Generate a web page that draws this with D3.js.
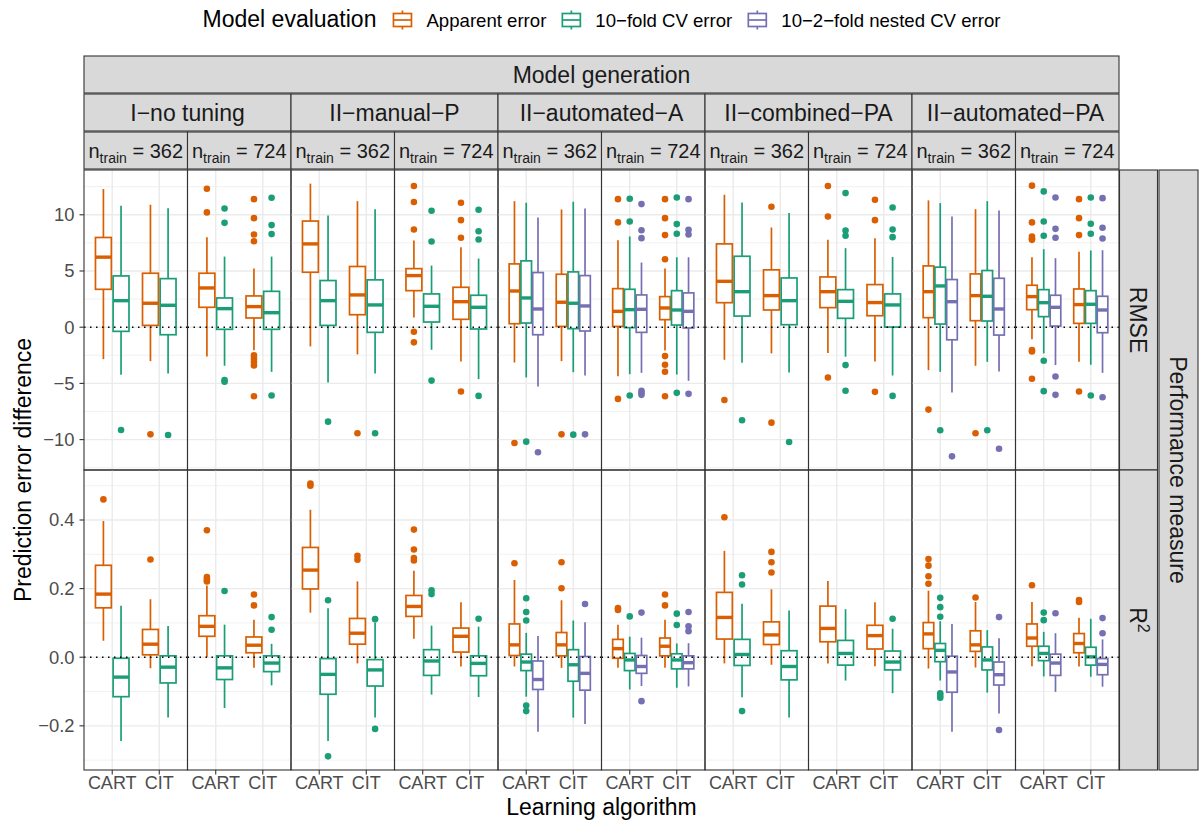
<!DOCTYPE html>
<html>
<head>
<meta charset="utf-8">
<script src="https://cdn.jsdelivr.net/npm/d3@7"></script>
<style>
  body { margin: 0; background: #fff; }
  svg text { font-family: "Liberation Sans", Arial, Helvetica, sans-serif; }
</style>
</head>
<body>
<div id="chart"></div>
<script>
// categories
const genLevels = ["I\u2212no tuning", "II\u2212manual\u2212P", "II\u2212automated\u2212A", "II\u2212combined\u2212PA", "II\u2212automated\u2212PA"];
const nTrain = [362, 724];
const algorithms = ["CART", "CIT"];
const evalMethods = ["Apparent error", "10\u2212fold CV error", "10\u22122\u2212fold nested CV error"];
const evalColors = ["#D95F02", "#1B9E77", "#7570B3"];
const nestedCols = [4, 5, 8, 9];   // panel columns that also have nested CV

// tick labels
const rmseTicks = [-10, -5, 0, 5, 10];
const rmseMinor = [-12.5, -7.5, -2.5, 2.5, 7.5, 12.5];
const r2Ticks = [-0.2, 0, 0.2, 0.4];
const r2Minor = [-0.3, -0.1, 0.1, 0.3, 0.5];

// box stats, one row per box:
// [panel column, algorithm, lower whisker, Q1, median, Q3, upper whisker, outliers]
const rmseApparent = [
    [0, "CART", -2.84, 3.37, 6.23, 7.98, 12.29, []],
    [0, "CIT", -3.02, 0.16, 2.13, 4.80, 10.89, [-9.53]],
    [1, "CART", -2.60, 1.77, 3.49, 4.80, 8.01, [12.32, 10.21]],
    [1, "CIT", -2.04, 0.82, 1.83, 2.78, 5.21, [11.39, 9.70, 8.25, 7.65, -2.51, -2.80, -3.10, -3.40, -6.14]],
    [2, "CART", -1.71, 4.89, 7.41, 9.44, 12.77, []],
    [2, "CIT", -2.42, 1.11, 2.87, 5.40, 11.21, [-9.44]],
    [3, "CART", 0.86, 3.25, 4.59, 5.21, 7.71, [12.56, 11.13, 8.69, -0.40, -1.35]],
    [3, "CIT", -3.05, 0.70, 2.27, 3.55, 7.12, [11.07, 9.52, 7.95, -5.72]],
    [4, "CART", -3.14, 0.31, 3.22, 5.63, 11.21, [-10.30]],
    [4, "CIT", -3.02, 0.07, 2.22, 4.71, 10.47, [-9.53]],
    [5, "CART", -4.36, 0.07, 1.41, 3.43, 7.74, [11.39, 9.32, -6.38]],
    [5, "CIT", -2.07, 0.67, 1.71, 2.72, 5.21, [11.39, 9.70, 8.19, 6.05, -2.57, -3.34, -3.97, -6.14]],
    [6, "CART", -2.90, 2.18, 4.08, 7.41, 11.78, [-6.47]],
    [6, "CIT", -2.33, 1.53, 2.81, 5.10, 8.87, [10.71, -8.49]],
    [7, "CART", -2.30, 1.74, 3.16, 4.47, 7.77, [12.56, 9.85, -4.47]],
    [7, "CIT", -3.05, 1.02, 2.19, 3.79, 7.92, [11.34, 9.52, -5.75]],
    [8, "CART", -3.82, 0.85, 3.16, 5.45, 11.28, [-7.33]],
    [8, "CIT", -3.43, 0.58, 2.81, 4.74, 10.50, [-9.44]],
    [9, "CART", -1.08, 1.56, 2.72, 3.73, 6.22, [12.59, 9.32, 8.07, 7.89, 7.77, -2.04, -2.16, -4.59]],
    [9, "CIT", -3.08, 0.34, 2.01, 3.40, 6.70, [11.39, 9.70, 8.19, -5.72]]
];
const rmseCV10 = [
    [0, "CART", -4.24, -0.37, 2.36, 4.56, 10.80, [-9.14]],
    [0, "CIT", -4.12, -0.67, 1.95, 4.32, 10.59, [-9.59]],
    [1, "CART", -3.43, -0.19, 1.65, 2.60, 6.28, [10.56, 9.28, -4.70, -4.85]],
    [1, "CIT", -3.97, -0.19, 1.29, 3.19, 6.28, [11.51, 9.08, 8.28, -6.08]],
    [2, "CART", -4.92, 0.16, 2.36, 4.15, 9.94, [-8.40]],
    [2, "CIT", -4.12, -0.46, 1.98, 4.21, 10.50, [-9.44]],
    [3, "CART", -2.01, 0.46, 1.86, 2.96, 5.48, [10.36, 7.62, -4.75]],
    [3, "CIT", -4.62, -0.16, 1.77, 2.84, 6.11, [10.45, 8.54, 7.80, -6.11]],
    [4, "CART", -4.47, 0.37, 2.60, 5.90, 11.07, [-10.18]],
    [4, "CIT", -4.00, -0.13, 2.13, 4.92, 11.16, [-9.56]],
    [5, "CART", -4.18, -0.04, 1.56, 3.37, 8.07, [11.42, 9.40, -6.08]],
    [5, "CIT", -4.21, 0.19, 1.53, 3.25, 6.22, [11.54, 9.17, 8.31, -5.84]],
    [6, "CART", -3.16, 0.99, 3.16, 6.31, 11.10, [-8.28]],
    [6, "CIT", -4.03, 0.22, 2.36, 4.38, 10.15, [-10.21]],
    [7, "CART", -2.63, 0.79, 2.30, 3.34, 7.03, [11.93, 8.60, 8.13, -3.37, -5.66]],
    [7, "CIT", -4.30, 0.01, 1.98, 2.96, 6.25, [10.65, 8.69, 8.01, -6.11]],
    [8, "CART", -3.97, 0.28, 3.67, 5.34, 11.04, [-9.17]],
    [8, "CIT", -3.08, 0.55, 2.75, 5.04, 11.21, [-9.17]],
    [9, "CART", -2.33, 0.94, 2.18, 3.34, 6.94, [12.08, 9.40, 8.13, -2.99, -5.69]],
    [9, "CIT", -3.34, 0.34, 2.04, 3.25, 6.82, [11.54, 9.20, 8.31, -6.08]]
];
const rmseNested = [
    [4, "CART", -5.27, -0.67, 1.62, 4.86, 9.76, [-11.13]],
    [4, "CIT", -4.30, -0.34, 1.89, 4.59, 10.56, [-9.53]],
    [5, "CART", -4.06, -0.46, 1.59, 2.87, 5.75, [10.95, 8.63, 7.92, -5.66, -5.84, -6.02]],
    [5, "CIT", -4.77, -0.07, 1.41, 3.05, 6.22, [11.39, 8.66, 8.25, -5.93]],
    [8, "CART", -5.81, -1.12, 2.27, 4.24, 9.85, [-11.49]],
    [8, "CIT", -3.94, -0.70, 1.62, 4.35, 10.39, [-10.81]],
    [9, "CART", -3.37, 0.10, 1.77, 2.84, 6.14, [11.54, 8.75, 7.95, -4.38, -6.02]],
    [9, "CIT", -4.06, -0.49, 1.53, 2.75, 6.85, [11.48, 8.84, 7.89, -6.23]]
];
const r2Apparent = [
    [0, "CART", 0.048, 0.144, 0.184, 0.268, 0.397, [0.460]],
    [0, "CIT", -0.032, 0.007, 0.038, 0.081, 0.169, [0.285]],
    [1, "CART", 0.001, 0.061, 0.090, 0.121, 0.209, [0.370, 0.234, 0.227, 0.221]],
    [1, "CIT", -0.031, 0.013, 0.035, 0.059, 0.109, [0.183, 0.151]],
    [2, "CART", 0.130, 0.199, 0.254, 0.320, 0.430, [0.506, 0.500]],
    [2, "CIT", -0.018, 0.038, 0.070, 0.113, 0.221, [0.296, 0.284]],
    [3, "CART", 0.054, 0.119, 0.148, 0.180, 0.252, [0.372, 0.314, 0.289, 0.282]],
    [3, "CIT", -0.027, 0.015, 0.061, 0.085, 0.160, []],
    [4, "CART", -0.027, 0.005, 0.036, 0.097, 0.225, [0.274]],
    [4, "CIT", -0.031, 0.004, 0.036, 0.072, 0.166, [0.277, 0.201]],
    [5, "CART", -0.031, -0.003, 0.025, 0.052, 0.095, [0.143, 0.138]],
    [5, "CIT", -0.031, 0.004, 0.032, 0.056, 0.109, [0.183, 0.151]],
    [6, "CART", -0.018, 0.053, 0.116, 0.189, 0.310, [0.408]],
    [6, "CIT", -0.022, 0.037, 0.065, 0.103, 0.198, [0.307, 0.277, 0.247]],
    [7, "CART", -0.018, 0.045, 0.084, 0.149, 0.222, []],
    [7, "CIT", -0.026, 0.024, 0.063, 0.093, 0.160, []],
    [8, "CART", -0.033, 0.025, 0.068, 0.101, 0.194, [0.286, 0.267, 0.236, 0.214]],
    [8, "CIT", -0.030, 0.017, 0.036, 0.077, 0.161, [0.174]],
    [9, "CART", -0.026, 0.032, 0.056, 0.097, 0.161, [0.210]],
    [9, "CIT", -0.027, 0.013, 0.040, 0.069, 0.115, [0.167, 0.161]]
];
const r2CV10 = [
    [0, "CART", -0.244, -0.115, -0.058, -0.003, 0.150, []],
    [0, "CIT", -0.176, -0.075, -0.029, 0.004, 0.091, []],
    [1, "CART", -0.148, -0.065, -0.031, 0.004, 0.095, [0.193]],
    [1, "CIT", -0.082, -0.042, -0.017, 0.004, 0.039, [0.117, 0.080]],
    [2, "CART", -0.244, -0.108, -0.050, -0.004, 0.143, [0.166, -0.289]],
    [2, "CIT", -0.176, -0.084, -0.037, -0.007, 0.101, [0.111, -0.209]],
    [3, "CART", -0.109, -0.053, -0.011, 0.022, 0.092, [0.195, 0.184]],
    [3, "CIT", -0.116, -0.054, -0.018, 0.004, 0.089, [0.112]],
    [4, "CART", -0.115, -0.039, -0.014, 0.009, 0.071, [0.172, 0.132, 0.107, -0.141, -0.157]],
    [4, "CIT", -0.176, -0.070, -0.022, 0.022, 0.107, []],
    [5, "CART", -0.094, -0.039, -0.008, 0.011, 0.060, [0.119]],
    [5, "CIT", -0.089, -0.034, -0.008, 0.010, 0.040, [0.127, 0.094]],
    [6, "CART", -0.117, -0.024, 0.008, 0.052, 0.156, [0.239, 0.212, -0.157]],
    [6, "CIT", -0.176, -0.066, -0.027, 0.019, 0.136, []],
    [7, "CART", -0.068, -0.023, 0.011, 0.049, 0.140, []],
    [7, "CIT", -0.105, -0.037, -0.014, 0.018, 0.083, [0.112]],
    [8, "CART", -0.068, -0.013, 0.020, 0.040, 0.105, [0.173, 0.146, 0.118, -0.105, -0.112, -0.118]],
    [8, "CIT", -0.103, -0.037, -0.008, 0.030, 0.079, []],
    [9, "CART", -0.056, -0.010, 0.011, 0.032, 0.074, [0.130, 0.108]],
    [9, "CIT", -0.057, -0.023, 0.001, 0.029, 0.112, []]
];
const r2Nested = [
    [4, "CART", -0.217, -0.094, -0.065, -0.011, 0.062, []],
    [4, "CIT", -0.195, -0.096, -0.047, 0.002, 0.102, [0.155]],
    [5, "CART", -0.084, -0.047, -0.027, 0.005, 0.057, [0.130, -0.128]],
    [5, "CIT", -0.085, -0.034, -0.016, 0.004, 0.041, [0.132, 0.090, 0.076]],
    [8, "CART", -0.217, -0.102, -0.043, 0.003, 0.097, []],
    [8, "CIT", -0.164, -0.081, -0.051, -0.014, 0.055, [0.117, -0.212]],
    [9, "CART", -0.101, -0.053, -0.017, 0.009, 0.070, [0.128]],
    [9, "CIT", -0.086, -0.051, -0.021, -0.004, 0.052, [0.114, 0.070]]
];

const width = 1200, height = 821;
const margin = {top: 170, left: 84};
const panelW = 103.5, panelH = 300;
const nCols = genLevels.length * nTrain.length;
const stripH = 38;
const stripFill = "#D9D9D9", darkLine = "#333333", gridCol = "#EBEBEB";
const tickFont = 18.4, stripFont = 23, titleFont = 23;

const svg = d3.select("#chart").append("svg")
    .attr("width", width)
    .attr("height", height);

const rows = [
    {label: "RMSE", data: [rmseApparent, rmseCV10, rmseNested], ticks: rmseTicks, minor: rmseMinor, fmt: d3.format("d")},
    {label: "R2", data: [r2Apparent, r2CV10, r2Nested], ticks: r2Ticks, minor: r2Minor, fmt: d3.format(".1f")}
];

const x = d3.scalePoint().domain(algorithms).range([0, panelW]).padding(0.6);

rows.forEach(function (row, r) {
    // y range from the data, expanded by 5% like ggplot
    let all = [];
    row.data.forEach(function (arr) {
        arr.forEach(function (d) { all.push(d[2], d[6]); all = all.concat(d[7]); });
    });
    const ext = d3.extent(all);
    const pad = (ext[1] - ext[0]) * 0.05;
    const y = d3.scaleLinear().domain([ext[0] - pad, ext[1] + pad]).range([panelH, 0]);
    const top = margin.top + r * panelH;

    for (let c = 0; c < nCols; c++) {
        const g = svg.append("g")
            .attr("transform", "translate(" + (margin.left + c * panelW) + "," + top + ")");

        // grid
        g.selectAll(".minor").data(row.minor.filter(v => y(v) > 0 && y(v) < panelH)).enter()
            .append("line")
            .attr("x1", 0).attr("x2", panelW)
            .attr("y1", d => y(d)).attr("y2", d => y(d))
            .attr("stroke", gridCol).attr("stroke-width", 0.7);
        g.selectAll(".major").data(row.ticks).enter()
            .append("line")
            .attr("x1", 0).attr("x2", panelW)
            .attr("y1", d => y(d)).attr("y2", d => y(d))
            .attr("stroke", gridCol).attr("stroke-width", 1.4);
        g.selectAll(".vgrid").data(algorithms).enter()
            .append("line")
            .attr("x1", d => x(d)).attr("x2", d => x(d))
            .attr("y1", 0).attr("y2", panelH)
            .attr("stroke", gridCol).attr("stroke-width", 1.4);

        // boxes
        const nGroups = nestedCols.includes(c) ? 3 : 2;
        const slot = x.step() * 0.75 / nGroups;
        const boxW = slot * 0.9;
        row.data.forEach(function (arr, m) {
            arr.filter(d => d[0] === c).forEach(function (d) {
                const cx = x(d[1]) + (m - (nGroups - 1) / 2) * slot;
                const col = evalColors[m];
                const bg = g.append("g");
                bg.selectAll("circle").data(d[7]).enter()
                    .append("circle")
                    .attr("cx", cx).attr("cy", v => y(v))
                    .attr("r", 3.3).attr("fill", col);
                bg.append("line")
                    .attr("x1", cx).attr("x2", cx)
                    .attr("y1", y(d[6])).attr("y2", y(d[5]))
                    .attr("stroke", col).attr("stroke-width", 1.7);
                bg.append("line")
                    .attr("x1", cx).attr("x2", cx)
                    .attr("y1", y(d[3])).attr("y2", y(d[2]))
                    .attr("stroke", col).attr("stroke-width", 1.7);
                bg.append("rect")
                    .attr("x", cx - boxW / 2).attr("width", boxW)
                    .attr("y", y(d[5])).attr("height", y(d[3]) - y(d[5]))
                    .attr("fill", "#fff").attr("stroke", col).attr("stroke-width", 1.7);
                bg.append("line")
                    .attr("x1", cx - boxW / 2).attr("x2", cx + boxW / 2)
                    .attr("y1", y(d[4])).attr("y2", y(d[4]))
                    .attr("stroke", col).attr("stroke-width", 3.4);
            });
        });

        // dotted zero line
        g.append("line")
            .attr("x1", 0).attr("x2", panelW)
            .attr("y1", y(0)).attr("y2", y(0))
            .attr("stroke", "#000").attr("stroke-width", 1.5)
            .attr("stroke-dasharray", "1.5,4.5");

        g.append("rect")
            .attr("width", panelW).attr("height", panelH)
            .attr("fill", "none").attr("stroke", darkLine).attr("stroke-width", 1.1);

        // x axis on the bottom row
        if (r === rows.length - 1) {
            g.selectAll(".xt").data(algorithms).enter()
                .append("line")
                .attr("x1", d => x(d)).attr("x2", d => x(d))
                .attr("y1", panelH).attr("y2", panelH + 4.5)
                .attr("stroke", darkLine).attr("stroke-width", 1.1);
            g.selectAll(".xl").data(algorithms).enter()
                .append("text")
                .attr("x", d => x(d)).attr("y", panelH + 18.5)
                .attr("text-anchor", "middle")
                .style("font-size", "18px").style("fill", "#4D4D4D")
                .text(d => d);
        }
    }

    // y axis on the left column
    const ya = svg.append("g").attr("transform", "translate(" + margin.left + "," + top + ")");
    ya.selectAll("line").data(row.ticks).enter()
        .append("line")
        .attr("x1", -4.5).attr("x2", 0)
        .attr("y1", d => y(d)).attr("y2", d => y(d))
        .attr("stroke", darkLine).attr("stroke-width", 1.1);
    ya.selectAll("text").data(row.ticks).enter()
        .append("text")
        .attr("x", -9.5).attr("y", d => y(d)).attr("dy", "0.35em")
        .attr("text-anchor", "end")
        .style("font-size", tickFont + "px").style("fill", "#4D4D4D")
        .text(d => row.fmt(d));

    // right strip for the measure
    const rs = svg.append("g")
        .attr("transform", "translate(" + (margin.left + nCols * panelW + 0.5) + "," + top + ")");
    rs.append("rect")
        .attr("width", stripH).attr("height", panelH)
        .attr("fill", stripFill).attr("stroke", darkLine).attr("stroke-width", 1.1);
    const rt = rs.append("text")
        .attr("transform", "translate(" + (stripH / 2) + "," + (panelH / 2) + ") rotate(90)")
        .attr("text-anchor", "middle").attr("dy", "0.35em")
        .style("font-size", stripFont + "px").style("fill", "#1A1A1A");
    if (row.label === "R2") {
        rt.append("tspan").text("R");
        rt.append("tspan").attr("dy", "-0.45em").style("font-size", "16px").text("2");
    } else {
        rt.text(row.label);
    }
});

// outer right strip
const outerX = margin.left + nCols * panelW + stripH + 2;
svg.append("rect")
    .attr("x", outerX).attr("y", margin.top)
    .attr("width", 39).attr("height", panelH * rows.length)
    .attr("fill", stripFill).attr("stroke", darkLine).attr("stroke-width", 1.1);
svg.append("text")
    .attr("transform", "translate(" + (outerX + 19.5) + "," + (margin.top + panelH) + ") rotate(90)")
    .attr("text-anchor", "middle").attr("dy", "0.35em")
    .style("font-size", stripFont + "px").style("fill", "#1A1A1A")
    .text("Performance measure");

// top strips: Model generation / level / n_train
const stripTop = margin.top - 3 * stripH;
const totalW = nCols * panelW;

function strip(x0, y0, w) {
    svg.append("rect")
        .attr("x", x0).attr("y", y0).attr("width", w).attr("height", stripH - 1)
        .attr("fill", stripFill).attr("stroke", darkLine).attr("stroke-width", 1.1);
    return svg.append("text")
        .attr("x", x0 + w / 2).attr("y", y0 + (stripH - 1) / 2).attr("dy", "0.35em")
        .attr("text-anchor", "middle")
        .style("fill", "#1A1A1A");
}

strip(margin.left, stripTop, totalW).style("font-size", stripFont + "px").text("Model generation");
genLevels.forEach(function (lv, i) {
    strip(margin.left + i * 2 * panelW, stripTop + stripH, 2 * panelW)
        .style("font-size", stripFont + "px").text(lv);
    nTrain.forEach(function (n, j) {
        const t = strip(margin.left + (i * 2 + j) * panelW, stripTop + 2 * stripH, panelW)
            .style("font-size", "20px");
        t.append("tspan").text("n");
        t.append("tspan").attr("dy", "5").style("font-size", "14px").text("train");
        t.append("tspan").attr("dy", "-5").text(" = " + n);
    });
});

// axis titles
svg.append("text")
    .attr("x", margin.left + totalW / 2).attr("y", 814.5)
    .attr("text-anchor", "middle")
    .style("font-size", titleFont + "px")
    .text("Learning algorithm");
svg.append("text")
    .attr("transform", "translate(31," + (margin.top + panelH) + ") rotate(-90)")
    .attr("text-anchor", "middle")
    .style("font-size", titleFont + "px")
    .text("Prediction error difference");

// legend
const leg = svg.append("g");
const legTitle = leg.append("text")
    .attr("x", 0).attr("y", 27)
    .style("font-size", "23px")
    .text("Model evaluation");
let lx = legTitle.node().getComputedTextLength() + 16;
evalMethods.forEach(function (name, i) {
    const k = leg.append("g").attr("transform", "translate(" + (lx + 10) + ",20)");
    k.append("line").attr("y1", -9.5).attr("y2", 9.5)
        .attr("stroke", evalColors[i]).attr("stroke-width", 1.7);
    k.append("rect").attr("x", -9).attr("y", -6.5).attr("width", 18).attr("height", 13)
        .attr("fill", "#fff").attr("stroke", evalColors[i]).attr("stroke-width", 1.7);
    k.append("line").attr("x1", -9).attr("x2", 9)
        .attr("stroke", evalColors[i]).attr("stroke-width", 1.7);
    const t = leg.append("text")
        .attr("x", lx + 34).attr("y", 27)
        .style("font-size", "18.6px")
        .text(name);
    lx += 34 + t.node().getComputedTextLength() + 15;
});
const legW = lx - 15;
leg.attr("transform", "translate(" + (margin.left + totalW / 2 - legW / 2) + ",0)");
</script>
</body>
</html>
